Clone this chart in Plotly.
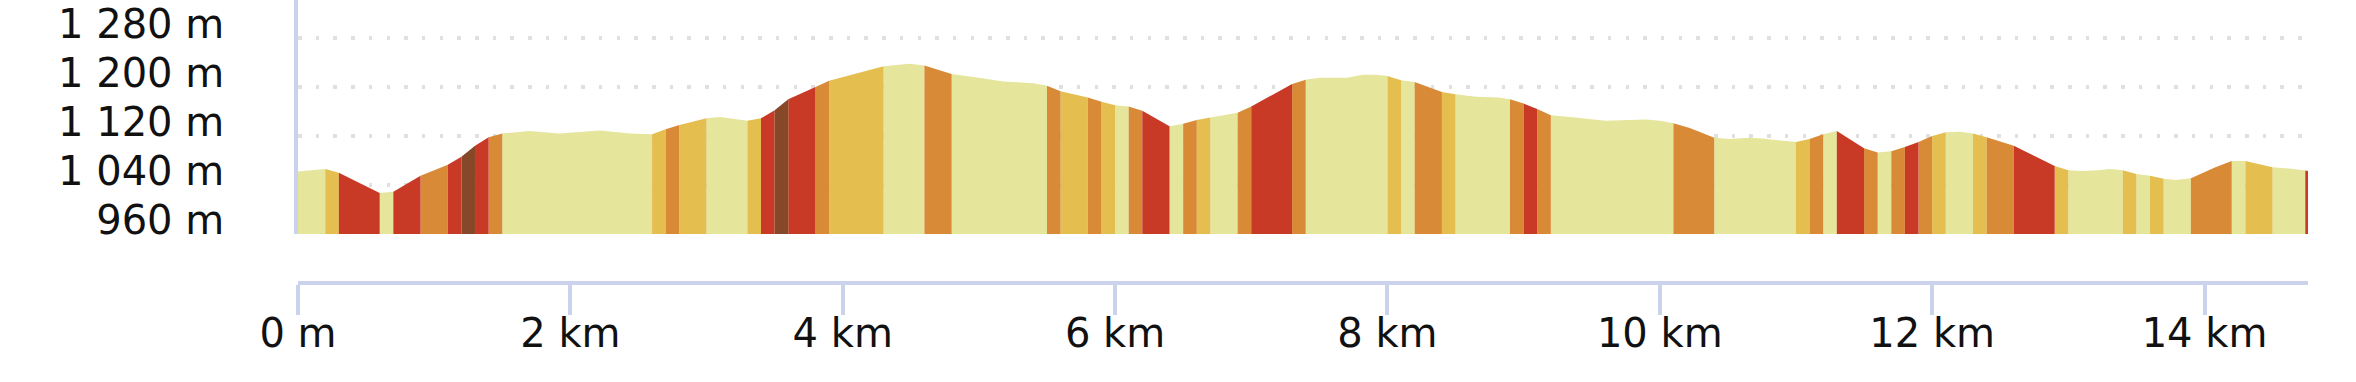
import numpy as np
import plotly.graph_objects as go

# ---- elevation profile (distance in km, elevation in m) ----
distance_km = [0.00, 0.20, 0.30, 0.60, 0.70, 0.90, 1.10, 1.20, 1.30, 1.40, 1.50, 1.70, 1.92, 2.22,
               2.44, 2.60, 2.70, 2.80, 3.00, 3.10, 3.30, 3.40, 3.50, 3.60, 3.80, 3.90, 4.30, 4.49,
               4.60, 4.80, 5.00, 5.18, 5.40, 5.50, 5.60, 5.80, 5.90, 6.00, 6.10, 6.20, 6.40, 6.50,
               6.60, 6.70, 6.90, 7.00, 7.30, 7.40, 7.50, 7.70, 7.82, 7.92, 8.00, 8.10, 8.20, 8.40,
               8.50, 8.65, 8.82, 8.90, 9.00, 9.10, 9.20, 9.38, 9.60, 9.78, 9.90, 10.00, 10.10, 10.22,
               10.40, 10.51, 10.66, 10.75, 10.90, 11.00, 11.10, 11.20, 11.30, 11.50, 11.60, 11.70,
               11.80, 11.90, 12.00, 12.10, 12.20, 12.30, 12.40, 12.60, 12.90, 13.00, 13.10, 13.22,
               13.30, 13.40, 13.50, 13.60, 13.70, 13.79, 13.90, 14.08, 14.20, 14.30, 14.50, 14.62,
               14.76]
elevation_m = [1062, 1066, 1060, 1027, 1029, 1055, 1073, 1086, 1104, 1118, 1124, 1128, 1124, 1129,
               1124, 1123, 1131, 1138, 1149, 1151, 1145, 1149, 1162, 1180, 1200, 1210, 1234, 1238,
               1235, 1221, 1215, 1209, 1206, 1202, 1193, 1183, 1176, 1170, 1168, 1161, 1136, 1140,
               1146, 1150, 1158, 1168, 1205, 1212, 1215, 1215, 1220, 1220, 1218, 1211, 1208, 1192,
               1188, 1184, 1183, 1180, 1173, 1164, 1154, 1150, 1145, 1146, 1147, 1145, 1141, 1133,
               1117, 1115, 1117, 1116, 1112, 1110, 1115, 1123, 1128, 1100, 1093, 1095,
               1102, 1110, 1120, 1126, 1127, 1124, 1118, 1104, 1071, 1064, 1063, 1064,
               1066, 1064, 1058, 1055, 1050, 1048, 1051, 1069, 1079, 1079, 1069, 1067,
               1063]

# ---- gradient segments (edges in km, class per segment) ----
segment_edges_km = [0, 0.2, 0.3, 0.6, 0.7, 0.9, 1.1, 1.2, 1.3, 1.4, 1.5, 2.6, 2.7, 2.8, 3.0, 3.3,
                    3.4, 3.5, 3.6, 3.8, 3.9, 4.3, 4.6, 4.8, 5.5, 5.6, 5.8, 5.9, 6.0, 6.1, 6.2, 6.4,
                    6.5, 6.6, 6.7, 6.9, 7.0, 7.3, 7.4, 8.0, 8.1, 8.2, 8.4, 8.5, 8.9, 9.0, 9.1, 9.2,
                    10.1, 10.4, 11.0, 11.1, 11.2, 11.3, 11.5, 11.6, 11.7, 11.8, 11.9, 12.0, 12.1,
                    12.3, 12.4, 12.6, 12.9, 13.0, 13.4, 13.5, 13.6, 13.7, 13.9, 14.2, 14.3, 14.5,
                    14.74, 14.76]
segment_grade = ["P", "Y", "R", "P", "R", "O", "R", "B", "R", "O",
                 "P", "Y", "O", "Y", "P", "Y", "R", "B", "R", "O",
                 "Y", "P", "O", "P", "O", "Y", "O", "Y", "P", "O",
                 "R", "P", "O", "Y", "P", "O", "R", "O", "P", "Y",
                 "P", "O", "Y", "P", "O", "R", "O", "P", "O", "P",
                 "Y", "O", "P", "R", "O", "P", "O", "R", "O", "Y",
                 "P", "Y", "O", "R", "Y", "P", "Y", "P", "Y", "P",
                 "O", "P", "Y", "P", "R"]

grade_colors = {"P": "#e5e59c", "Y": "#e4bf50", "O": "#d98a36", "R": "#c83a26", "B": "#874829"}

# ---- axes ----
x_tick_vals = [0, 2, 4, 6, 8, 10, 12, 14]
x_tick_text = ["0 m", "2 km", "4 km", "6 km", "8 km", "10 km", "12 km", "14 km"]
y_tick_vals = [960, 1040, 1120, 1200, 1280]
y_tick_text = ["960 m", "1 040 m", "1 120 m", "1 200 m", "1 280 m"]
y_min, y_max = 960, 1342
x_max = 14.76

dist = np.array(distance_km, dtype=float)
elev = np.array(elevation_m, dtype=float)

fig = go.Figure()
for grade, color in grade_colors.items():
    xs, ys = [], []
    for i, g in enumerate(segment_grade):
        if g != grade:
            continue
        s, e = segment_edges_km[i], segment_edges_km[i + 1]
        inner = dist[(dist > s) & (dist < e)]
        px = np.concatenate([[s], inner, [e]])
        py = np.interp(px, dist, elev)
        xs += [s] + list(px) + [e, None]
        ys += [y_min] + list(py) + [y_min, None]
    if xs:
        fig.add_trace(go.Scatter(x=xs, y=ys, mode="lines", line=dict(width=0),
                                 fill="toself", fillcolor=color, hoverinfo="skip",
                                 showlegend=False))

axis_color = "#cbd2ec"
font_family = "DejaVu Sans"
fig.update_layout(
    width=2356, height=382,
    margin=dict(l=298, r=48, t=0, b=99, pad=0),
    paper_bgcolor="white", plot_bgcolor="white",
    showlegend=False,
    xaxis=dict(range=[0, x_max], anchor="free", position=0, domain=[0, 1],
               showline=True, linecolor=axis_color, linewidth=3.5,
               ticks="outside", ticklen=30, tickwidth=3.5, tickcolor=axis_color,
               tickvals=x_tick_vals, ticktext=x_tick_text, showgrid=False, zeroline=False,
               ticklabelstandoff=-16,
               tickfont=dict(family=font_family, size=40, color="#111111")),
    yaxis=dict(range=[y_min, y_max], domain=[49 / 283, 1],
               showline=True, linecolor=axis_color, linewidth=3.5,
               ticks="", tickvals=y_tick_vals, ticktext=y_tick_text,
               showgrid=True, gridcolor="#e0e0e0", gridwidth=3.5, griddash="3.5px,14.2px",
               zeroline=False, ticklabelstandoff=62, ticklabelshift=-14,
               tickfont=dict(family=font_family, size=40, color="#111111")),
)

fig.write_html("out.html")
